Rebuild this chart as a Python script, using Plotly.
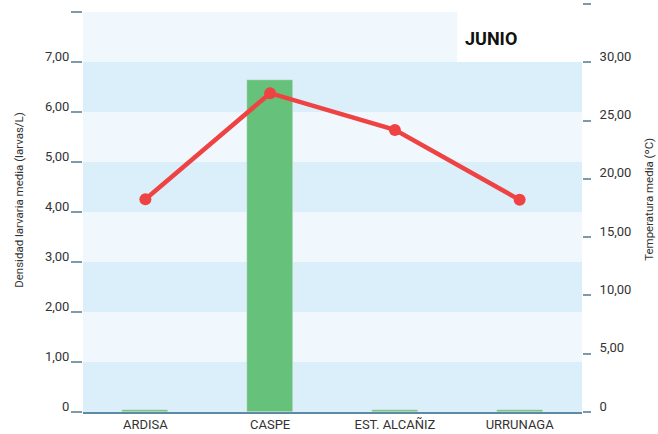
import plotly.graph_objects as go

categories = ["ARDISA", "CASPE", "EST. ALCAÑIZ", "URRUNAGA"]
densidad = [0.04, 6.65, 0.04, 0.04]
temperatura = [18.25, 27.35, 24.2, 18.2]
left_tickvals = [0, 1, 2, 3, 4, 5, 6, 7, 8]
left_ticktext = ["0", "1,00", "2,00", "3,00", "4,00", "5,00", "6,00", "7,00", ""]
right_tickvals = [0, 5, 10, 15, 20, 25, 30, 35]
right_ticktext = ["0", "5,00", "10,00", "15,00", "20,00", "25,00", "30,00", ""]
title_text = "JUNIO"
left_title = "Densidad larvaria media (larvas/L)"
right_title = "Temperatura media (ºC)"

FONT = "Roboto, sans-serif"
DARK = "#dbeffa"
LIGHT = "#f0f8fd"
TICKC = "#7e9bab"

fig = go.Figure()
fig.add_trace(go.Bar(x=categories, y=densidad, marker_color="#66c17a", width=0.37,
                     yaxis="y", showlegend=False))
fig.add_trace(go.Scatter(x=categories, y=temperatura, yaxis="y2", mode="lines+markers",
                         line=dict(color="#ef4343", width=4.5),
                         marker=dict(color="#ef4343", size=12), showlegend=False))

shapes = []
for i in range(8):
    shapes.append(dict(type="rect", xref="paper", yref="y", x0=0, x1=1, y0=i, y1=i + 1,
                       fillcolor=DARK if i % 2 == 0 else LIGHT, line_width=0, layer="below"))
shapes.append(dict(type="rect", xref="paper", yref="y", x0=0.75, x1=1, y0=7, y1=8.2,
                   fillcolor="white", line_width=0, layer="below"))

fig.update_layout(
    width=658, height=434,
    margin=dict(l=83, r=76, t=4, b=22),
    paper_bgcolor="white", plot_bgcolor="white",
    font=dict(family=FONT, size=13, color="#333333"),
    shapes=shapes,
    bargap=0,
    xaxis=dict(showgrid=False, showline=True, linecolor="#5f8aa3", linewidth=1.5,
               ticks="", tickfont=dict(size=13, color="#333333"), ticklabelstandoff=0,
               automargin=False),
    yaxis=dict(range=[0, 8.16], tickvals=left_tickvals, ticktext=left_ticktext,
               showgrid=False, zeroline=False, ticks="outside", ticklen=11, tickwidth=1.5,
               tickcolor=TICKC, ticklabelshift=-6, ticklabelstandoff=-1,
               tickfont=dict(size=13, color="#333333"), automargin=False),
    yaxis2=dict(range=[0, 35], overlaying="y", side="right", tickvals=right_tickvals,
                ticktext=right_ticktext, showgrid=False, zeroline=False, ticks="outside",
                ticklen=8, tickwidth=1.5, tickcolor=TICKC, ticklabelshift=-6, ticklabelstandoff=6,
                tickfont=dict(size=13, color="#333333"), automargin=False),
    annotations=[
        dict(text="<b>" + title_text + "</b>", xref="paper", yref="y", x=0.874, y=7.466,
             showarrow=False, font=dict(size=18, color="#111111")),
        dict(text=left_title, xref="paper", yref="paper", x=-0.1283, y=0.52, textangle=-90,
             xanchor="center", yanchor="middle",
             showarrow=False, font=dict(size=11.5, color="#333333")),
        dict(text=right_title, xref="paper", yref="paper", x=1.1343, y=0.52, textangle=-90,
             xanchor="center", yanchor="middle",
             showarrow=False, font=dict(size=11.5, color="#333333")),
    ],
)

fig.write_html("out.html", config={"displayModeBar": False},
               post_script="document.body.style.margin='0';document.body.style.overflow='hidden';")
